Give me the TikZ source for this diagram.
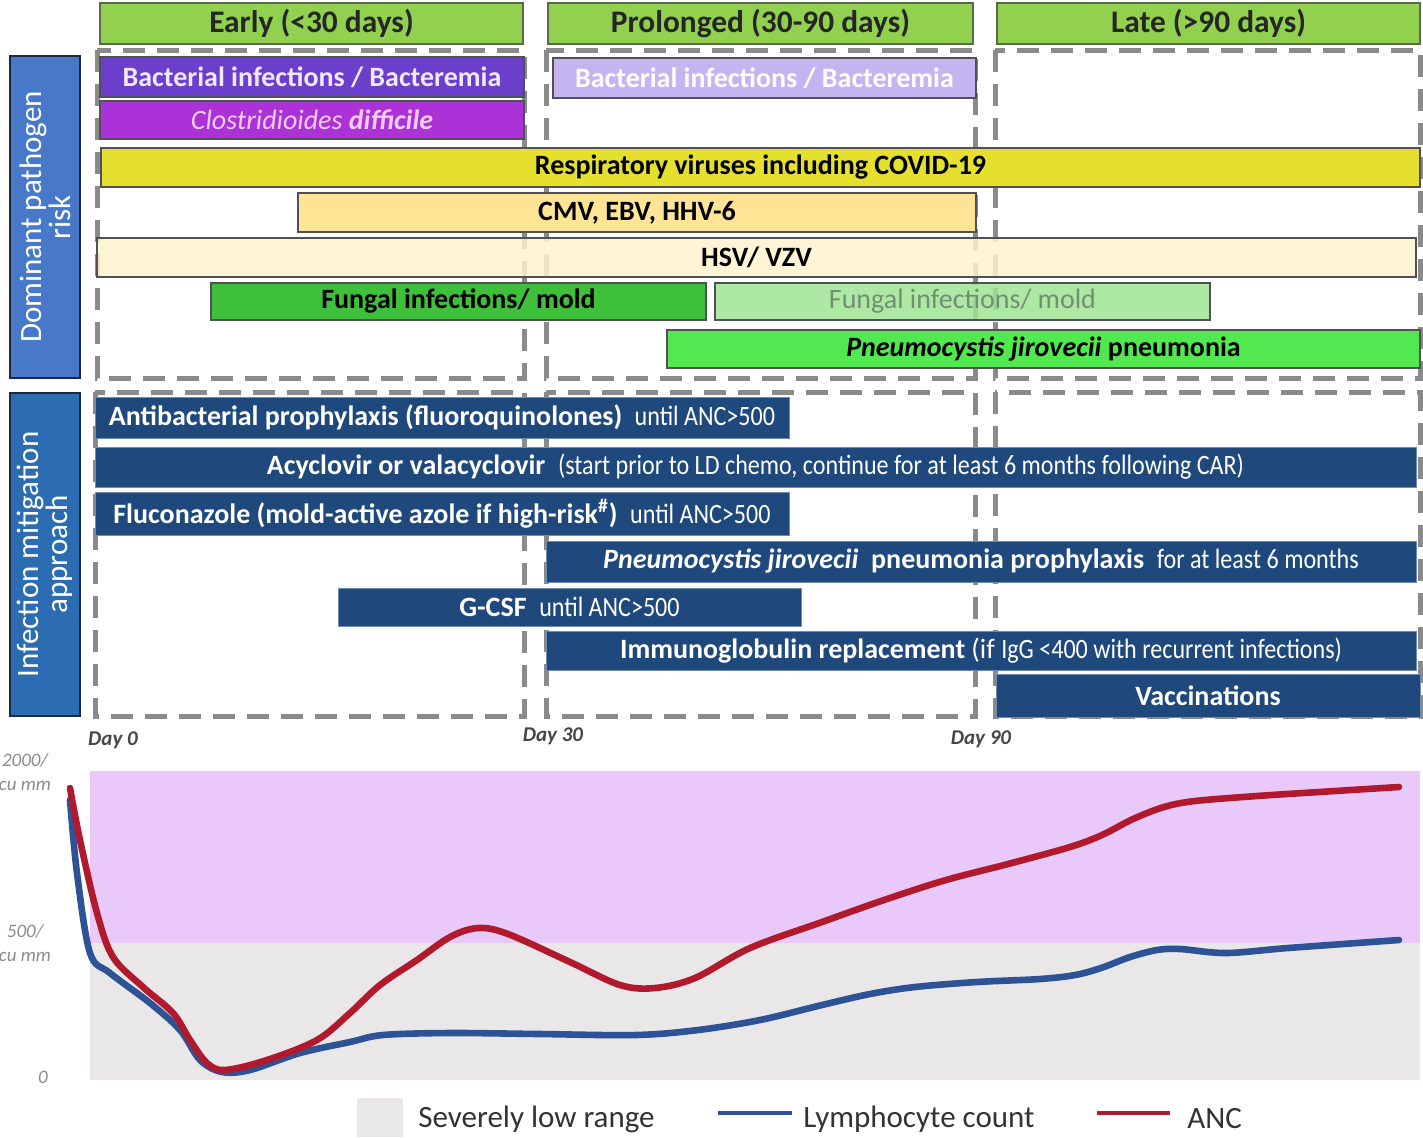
\documentclass[tikz,border=0pt]{standalone}
\usepackage{fontspec}
\setmainfont{Carlito}
\newfontfamily\narrowfont[FakeStretch=0.86]{Carlito}

\definecolor{hdrgreen}{RGB}{146,208,80}
\definecolor{hdrline}{RGB}{90,105,80}
\definecolor{bact}{RGB}{108,62,204}
\definecolor{bacttext}{RGB}{240,232,255}
\definecolor{cdiff}{RGB}{170,50,215}
\definecolor{cdifftext}{RGB}{248,205,245}
\definecolor{bactlt}{RGB}{196,180,240}
\definecolor{resp}{RGB}{228,224,45}
\definecolor{cmv}{RGB}{255,228,150}
\definecolor{hsv}{RGB}{255,243,206}
\definecolor{fung}{RGB}{62,192,58}
\definecolor{fungl}{RGB}{160,228,150}
\definecolor{fungltext}{RGB}{112,145,112}
\definecolor{pcp}{RGB}{82,232,80}
\definecolor{barline}{RGB}{80,80,85}
\definecolor{navy}{RGB}{31,73,125}
\definecolor{navyline}{RGB}{110,140,175}
\definecolor{sideA}{RGB}{72,120,200}
\definecolor{sideB}{RGB}{43,108,178}
\definecolor{sideline}{RGB}{30,40,60}
\definecolor{dashgray}{RGB}{138,138,138}
\definecolor{hiband}{RGB}{233,201,250}
\definecolor{lowband}{RGB}{233,231,231}
\definecolor{ancred}{RGB}{176,26,44}
\definecolor{lymblue}{RGB}{45,82,150}

% smaller, condensed remark inside a treatment bar
\newcommand\smallnote[1]{{\narrowfont\mdseries\fontsize{14}{16}\selectfont #1}}

% \barnode{name}{style}{x1}{y1}{x2}{y2}{text}: a box spanning two corners
\newcommand\barnode[7]{%
  \pgfmathsetmacro\bxc{(#3+#5)/2}\pgfmathsetmacro\byc{(#4+#6)/2}%
  \pgfmathsetmacro\bw{(#5-#3)*0.5}\pgfmathsetmacro\bh{(#6-#4)*0.5}%
  \node[#2, minimum width=\bw pt, minimum height=\bh pt] (#1) at (\bxc,\byc) {#7};}

\begin{document}
\begin{tikzpicture}[x=0.5pt,y=-0.5pt,
  hdr/.style={draw=hdrline, line width=0.8pt, fill=hdrgreen, inner sep=0pt,
    text=black!85, font=\bfseries\fontsize{15.7}{17}\selectfont},
  pbar/.style={draw=barline, line width=0.8pt, inner sep=0pt,
    font=\bfseries\fontsize{14}{16}\selectfont},
  mbar/.style={draw=navyline, line width=0.5pt, fill=navy, inner sep=0pt,
    text=white, font=\bfseries\fontsize{14}{16}\selectfont},
  dashbox/.style={draw=dashgray, line width=2.5pt, dash pattern=on 11pt off 6pt},
  sidebox/.style={draw=sideline, line width=0.8pt, inner sep=0pt, rotate=90,
    minimum height=35pt, text=white, align=center,
    font=\fontsize{15.5}{14.5}\selectfont},
  daylab/.style={text=black!72, font=\itshape\bfseries\fontsize{10.5}{12}\selectfont},
  ylab/.style={text=black!45, align=center, font=\itshape\fontsize{9.5}{12}\selectfont},
  lgtext/.style={text=black!80, inner sep=0pt, font=\fontsize{15.5}{17}\selectfont},
  curve/.style={line width=3.3pt, line cap=round, line join=round},
]
\useasboundingbox (0,0) rectangle (1423,1137);
\fill[white] (0,0) rectangle (1423,1137);

% period headers
\barnode{hEarly}{hdr}{100}{3}{523}{44}{Early (<30 days)}
\barnode{hProl}{hdr}{548}{3}{973}{44}{Prolonged (30-90 days)}
\barnode{hLate}{hdr}{997}{3}{1420}{44}{Late (>90 days)}

% dashed period frames
\draw[dashbox] (97,50) rectangle (524,378);
\draw[dashbox] (546,50) rectangle (975,378);
\draw[dashbox] (995,50) rectangle (1420,378);
\draw[dashbox] (95,392) rectangle (524,716);
\draw[dashbox] (546,392) rectangle (975,716);
\draw[dashbox] (995,392) rectangle (1420,716);

% row titles
\node[sidebox, fill=sideA, minimum width=161pt] (sideP) at (45,217) {Dominant pathogen\\risk};
\node[sidebox, fill=sideB, minimum width=161.5pt] (sideM) at (45,554.5) {Infection mitigation\\approach};

% pathogen risk bars
\barnode{pBact}{pbar, fill=bact, text=bacttext}{100}{57}{524}{97}{Bacterial infections / Bacteremia}
\barnode{pCdiff}{pbar, fill=cdiff, text=cdifftext}{100}{101}{524}{139}{\mdseries\itshape Clostridioides \bfseries difficile}
\barnode{pBactL}{pbar, fill=bactlt, text=white}{553}{58}{976}{98}{Bacterial infections / Bacteremia}
\barnode{pResp}{pbar, fill=resp}{101}{148}{1420}{187}{Respiratory viruses including COVID-19}
\barnode{pCmv}{pbar, fill=cmv}{298}{193}{976}{232}{CMV, EBV, HHV-6}
\barnode{pHsv}{pbar, fill=hsv, fill opacity=0.85, text opacity=1}{97}{238}{1416}{277}{HSV/ VZV}
\barnode{pFung}{pbar, fill=fung}{211}{283}{706}{320}{Fungal infections/ mold}
\barnode{pFungL}{pbar, fill=fungl, text=fungltext, fill opacity=0.85, text opacity=1}{715}{283}{1210}{320}{\mdseries Fungal infections/ mold}
\barnode{pPcp}{pbar, fill=pcp}{667}{330}{1420}{368}{\itshape Pneumocystis jirovecii\ \upshape pneumonia}

% mitigation bars
\barnode{mAntib}{mbar}{95}{397}{789}{438}{Antibacterial prophylaxis (fluoroquinolones)\ \ \smallnote{until ANC>500}}
\barnode{mAcyc}{mbar}{95}{447}{1416}{487}{Acyclovir or valacyclovir\ \ \smallnote{(start prior to LD chemo, continue for at least 6 months following CAR)}}
\barnode{mFluc}{mbar}{95}{492}{789}{535}{Fluconazole (mold-active azole if high-risk\textsuperscript{\#})\ \ \smallnote{until ANC>500}}
\barnode{mPcp}{mbar}{546}{541}{1416}{582}{\itshape Pneumocystis jirovecii\upshape\ \ pneumonia prophylaxis\ \ \smallnote{for at least 6 months}}
\barnode{mGcsf}{mbar}{338}{588}{801}{626}{G-CSF\ \ \smallnote{until ANC>500}}
\barnode{mIg}{mbar}{546}{631}{1416}{670}{Immunoglobulin replacement \mdseries(if \smallnote{IgG <400 with recurrent infections)}}
\barnode{mVacc}{mbar}{996}{674}{1420}{717}{Vaccinations}

% day markers
\node[daylab] (d0) at (113,740) {Day 0};
\node[daylab] (d30) at (553,736) {Day 30};
\node[daylab] (d90) at (981,739) {Day 90};

% count chart
\fill[hiband] (90,771) rectangle (1420,943);
\fill[lowband] (90,943) rectangle (1420,1080);
\node[ylab] (y2000) at (25,772) {2000/\\cu mm};
\node[ylab] (y500) at (25,943) {500/\\cu mm};
\node[ylab] (y0) at (43,1077) {0};

\draw[curve, lymblue] plot[smooth, tension=0.55] coordinates {
  (70,800) (77,873) (90,953) (110,973) (150,1003) (180,1030) (200,1060)
  (222,1072) (250,1070) (300,1053) (350,1042) (383,1035) (450,1033)
  (540,1034) (636,1035) (698,1030) (760,1020) (822,1005) (870,994)
  (915,987) (977,982) (1040,979) (1075,975) (1101,968) (1130,957)
  (1157,950) (1180,949) (1226,953) (1288,948) (1399,940)};

\draw[curve, ancred] plot[smooth, tension=0.55] coordinates {
  (70,788) (80,840) (97,913) (113,957) (143,987) (173,1013) (190,1040)
  (207,1063) (225,1070) (267,1060) (317,1040) (350,1013) (380,985)
  (417,960) (450,937) (478,928) (508,934) (570,962) (620,985) (655,988)
  (695,978) (750,948) (822,922) (884,900) (946,880) (1008,864)
  (1070,847) (1102,835) (1133,819) (1164,807) (1195,801) (1257,796)
  (1319,792) (1399,787)};

% legend
\node[fill=lowband, inner sep=0pt, minimum width=23pt, minimum height=19.5pt] (lgBox) at (380,1117.5) {};
\node[lgtext, anchor=west] (lgLow) at (418,1119) {Severely low range};
\coordinate (lgB1) at (718,1113);
\coordinate (lgB2) at (792,1113);
\draw[lymblue, line width=2.2pt] (lgB1) -- (lgB2);
\node[lgtext, anchor=west] (lgLym) at (803,1119) {Lymphocyte count};
\coordinate (lgR1) at (1097,1113);
\coordinate (lgR2) at (1170,1113);
\draw[ancred, line width=2.2pt] (lgR1) -- (lgR2);
\node[lgtext, anchor=west] (lgAnc) at (1187,1119) {ANC};
\end{tikzpicture}
\end{document}
